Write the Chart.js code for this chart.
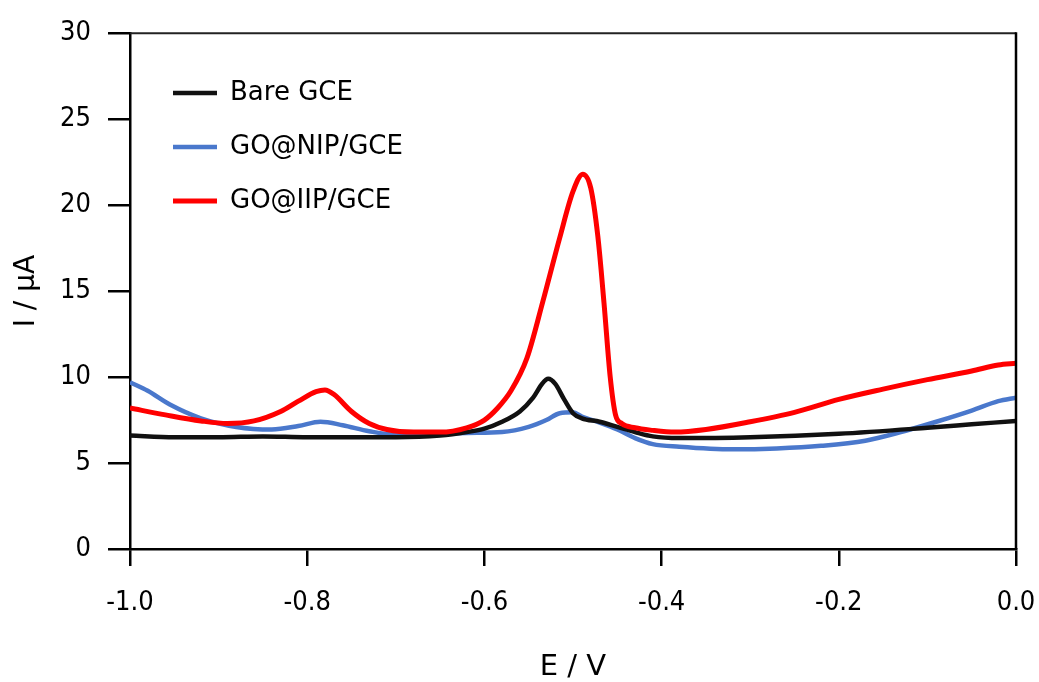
<!DOCTYPE html>
<html>
<head>
<meta charset="utf-8">
<script src="https://cdn.jsdelivr.net/npm/chart.js@4/dist/chart.umd.min.js"></script>
<style>
  html, body { margin: 0; padding: 0; background: #fff; }
</style>
</head>
<body>
<canvas id="dpv" width="1039" height="682"></canvas>
<script>
// series labels
const seriesNames = ["Bare GCE", "GO@NIP/GCE", "GO@IIP/GCE"];

// Bare GCE
const bareE = [-1.0, -0.95, -0.9, -0.85, -0.8, -0.75, -0.7, -0.65, -0.62, -0.6, -0.58, -0.56, -0.545, -0.535, -0.528, -0.52, -0.51, -0.5, -0.49, -0.47, -0.45, -0.43, -0.41, -0.38, -0.3, -0.2, -0.1, -0.05, 0.0];
const bareI = [6.6, 6.5, 6.5, 6.55, 6.5, 6.5, 6.5, 6.6, 6.8, 7.0, 7.4, 8.0, 8.8, 9.6, 9.9, 9.6, 8.7, 7.9, 7.6, 7.4, 7.1, 6.8, 6.55, 6.45, 6.5, 6.7, 7.05, 7.25, 7.45];

// GO@NIP/GCE
const nipE = [-1.0, -0.98, -0.955, -0.92, -0.88, -0.84, -0.81, -0.785, -0.76, -0.73, -0.7, -0.67, -0.62, -0.58, -0.55, -0.53, -0.515, -0.5, -0.49, -0.47, -0.45, -0.43, -0.41, -0.38, -0.32, -0.27, -0.22, -0.17, -0.13, -0.09, -0.05, -0.02, 0.0];
const nipI = [9.7, 9.2, 8.4, 7.6, 7.1, 6.95, 7.15, 7.4, 7.2, 6.85, 6.65, 6.65, 6.75, 6.8, 7.1, 7.5, 7.9, 7.95, 7.7, 7.35, 6.95, 6.45, 6.1, 5.95, 5.8, 5.85, 6.0, 6.3, 6.8, 7.4, 8.05, 8.6, 8.8];

// GO@IIP/GCE
const iipE = [-1.0, -0.96, -0.92, -0.89, -0.86, -0.83, -0.81, -0.79, -0.78, -0.77, -0.75, -0.73, -0.71, -0.68, -0.65, -0.62, -0.6, -0.585, -0.57, -0.552, -0.534, -0.515, -0.5, -0.489, -0.48, -0.472, -0.465, -0.458, -0.452, -0.445, -0.43, -0.41, -0.385, -0.35, -0.3, -0.25, -0.2, -0.15, -0.1, -0.05, -0.02, 0.0];
const iipI = [8.2, 7.8, 7.45, 7.3, 7.45, 8.0, 8.6, 9.15, 9.25, 9.0, 8.0, 7.3, 6.95, 6.8, 6.8, 7.05, 7.5, 8.2, 9.2, 11.1, 14.4, 18.1, 20.8, 21.8, 21.0, 18.2, 14.3, 10.0, 7.8, 7.3, 7.05, 6.9, 6.8, 6.95, 7.4, 7.95, 8.7, 9.3, 9.85, 10.35, 10.7, 10.8];

const xTicks = [-1.0, -0.8, -0.6, -0.4, -0.2, 0.0];
const yTicks = [0, 5, 10, 15, 20, 25, 30];

const pts = (xs, ys) => xs.map((x, i) => ({ x: x, y: ys[i] }));

const tickFont = "'DejaVu Sans Condensed', 'DejaVu Sans', sans-serif";
const textFont = "'DejaVu Sans', sans-serif";

// box round the plot (top and right edges)
const frame = {
  id: "frame",
  afterDatasetsDraw(chart) {
    const { ctx, chartArea: a } = chart;
    ctx.save();
    ctx.strokeStyle = "#222";
    ctx.lineWidth = 2;
    ctx.beginPath();
    ctx.moveTo(a.left, a.top);
    ctx.lineTo(a.right, a.top);
    ctx.stroke();
    ctx.strokeStyle = "#000";
    ctx.lineWidth = 2.5;
    ctx.beginPath();
    ctx.moveTo(a.right, a.top - 1);
    ctx.lineTo(a.right, a.bottom);
    ctx.stroke();
    ctx.restore();
  },
};

// move the in-plot legend a bit off the corner
const legendNudge = {
  id: "legendNudge",
  afterLayout(chart) {
    chart.legend.left += 15;
    chart.legend.top += 52;
  },
};

new Chart(document.getElementById("dpv"), {
  type: "line",
  data: {
    datasets: [
      {
        label: seriesNames[0],
        data: pts(bareE, bareI),
        borderColor: "#111111",
        backgroundColor: "#111111",
        borderWidth: 4.5,
        order: 1,
      },
      {
        label: seriesNames[1],
        data: pts(nipE, nipI),
        borderColor: "#4a78cc",
        backgroundColor: "#4a78cc",
        borderWidth: 4.5,
        order: 2,
      },
      {
        label: seriesNames[2],
        data: pts(iipE, iipI),
        borderColor: "#ff0000",
        backgroundColor: "#ff0000",
        borderWidth: 5,
        order: 0,
      },
    ],
  },
  options: {
    responsive: false,
    animation: false,
    layout: { padding: { left: 0, right: 23, top: 31, bottom: 0 } },
    elements: {
      point: { radius: 0, hoverRadius: 0 },
      line: { cubicInterpolationMode: "monotone" },
    },
    plugins: {
      tooltip: { enabled: false },
      legend: {
        position: "chartArea",
        align: "start",
        labels: {
          usePointStyle: true,
          pointStyle: "line",
          pointStyleWidth: 44,
          padding: 28,
          color: "#000",
          font: { family: textFont, size: 26 },
          sort: (a, b) => a.datasetIndex - b.datasetIndex,
        },
      },
    },
    scales: {
      x: {
        type: "linear",
        min: xTicks[0],
        max: xTicks[xTicks.length - 1],
        afterBuildTicks: (axis) => {
          axis.ticks = xTicks.map((v) => ({ value: v }));
        },
        afterFit: (axis) => {
          axis.height = 133;
        },
        border: { display: true, color: "#000", width: 2.5 },
        grid: { drawOnChartArea: false, color: "#000", lineWidth: 2.5, tickLength: 17 },
        ticks: {
          color: "#000",
          padding: 3,
          maxRotation: 0,
          autoSkip: false,
          font: { family: tickFont, size: 27, lineHeight: 2.5 },
          callback: (v) => Number(v).toFixed(1),
        },
        title: {
          display: true,
          text: "E / V",
          color: "#000",
          padding: { top: 0, bottom: 0 },
          font: { family: textFont, size: 29, lineHeight: 1 },
        },
      },
      y: {
        min: yTicks[0],
        max: yTicks[yTicks.length - 1],
        afterBuildTicks: (axis) => {
          axis.ticks = yTicks.map((v) => ({ value: v }));
        },
        afterFit: (axis) => {
          axis.width = 130;
        },
        border: { display: true, color: "#000", width: 2.5 },
        grid: { drawOnChartArea: false, color: "#000", lineWidth: 2.5, tickLength: 22 },
        ticks: {
          color: "#000",
          padding: 17,
          font: { family: tickFont, size: 27 },
        },
        title: {
          display: true,
          text: "I / µA",
          color: "#000",
          padding: { top: 10, bottom: 0 },
          font: { family: textFont, size: 28 },
        },
      },
    },
  },
  plugins: [frame, legendNudge],
});
</script>
</body>
</html>
